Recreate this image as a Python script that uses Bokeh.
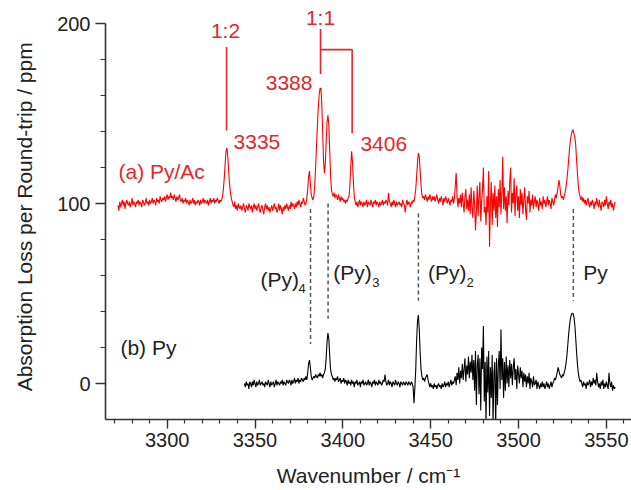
import numpy as np
from bokeh.plotting import figure
from bokeh.models import Range1d, FixedTicker, Label
from bokeh.embed import file_html
from bokeh.resources import INLINE

FONT = "Liberation Sans"
RED_TXT = "#e3262b"

# ---------------- data ----------------
step = 0.5
red_start = 3272.0     # (a) Py/Ac
red_y = [
    99, 96, 101, 98, 100, 102, 99, 101, 97, 100, 102, 100, 99, 101, 98, 100, 103, 99, 101, 100,
    98, 101, 100, 102, 99, 101, 100, 98, 102, 101, 99, 100, 103, 100, 101, 99, 102, 100, 101, 103,
    100, 102, 101, 99, 103, 101, 102, 100, 104, 102, 101, 103, 102, 104, 101, 103, 105, 102, 104, 103,
    106, 103, 104, 102, 105, 103, 101, 104, 102, 103, 105, 102, 101, 103, 100, 102, 101, 103, 100, 102,
    101, 99, 102, 100, 101, 103, 100, 102, 99, 101, 100, 102, 101, 99, 102, 100, 101, 103, 100, 102,
    101, 100, 102, 99, 101, 103, 100, 102, 101, 103, 100, 102, 101, 103, 102, 100, 102, 101, 102, 104,
    108, 114, 122, 129, 131, 126, 118, 111, 106, 103, 101, 99, 98, 101, 97, 99, 96, 100, 98, 97,
    99, 96, 98, 100, 97, 95, 99, 98, 96, 100, 98, 97, 99, 95, 98, 100, 97, 99, 96, 98,
    100, 97, 95, 98, 99, 96, 94, 98, 100, 97, 99, 96, 98, 95, 97, 99, 96, 98, 100, 97,
    98, 95, 97, 100, 96, 99, 97, 94, 98, 96, 99, 97, 100, 98, 96, 99, 97, 101, 98, 100,
    99, 97, 100, 98, 101, 99, 102, 100, 98, 101, 100, 103, 101, 99, 100, 103, 108, 115, 118, 111,
    105, 103, 102, 104, 110, 120, 132, 143, 153, 160, 164, 164, 156, 140, 124, 117, 122, 134, 145, 149,
    144, 130, 116, 108, 105, 104, 106, 103, 105, 104, 102, 105, 103, 101, 104, 102, 103, 101, 102, 100,
    102, 101, 103, 104, 110, 121, 129, 123, 112, 104, 101, 99, 101, 98, 100, 102, 99, 101, 100, 98,
    101, 99, 100, 102, 98, 101, 100, 99, 102, 100, 98, 101, 100, 102, 99, 101, 100, 98, 101, 99,
    100, 102, 99, 101, 100, 102, 101, 99, 106, 101, 100, 98, 101, 99, 102, 100, 98, 101, 99, 100,
    101, 99, 100, 98, 102, 100, 99, 95, 100, 102, 99, 101, 100, 98, 101, 100, 102, 101, 104, 108,
    115, 123, 128, 126, 118, 110, 105, 103, 104, 102, 105, 103, 101, 104, 102, 105, 103, 101, 104, 102,
    104, 101, 103, 105, 102, 100, 103, 101, 104, 102, 99, 103, 101, 104, 102, 100, 103, 101, 99, 102,
    101, 104, 100, 103, 110, 117, 104, 98, 103, 100, 105, 98, 106, 100, 95, 104, 108, 97, 102, 96,
    105, 94, 109, 98, 92, 107, 100, 85, 96, 110, 93, 104, 112, 90, 101, 108, 120, 95, 98, 88,
    104, 95, 118, 76, 100, 112, 88, 106, 96, 110, 92, 104, 87, 108, 98, 113, 94, 105, 126, 97,
    109, 96, 104, 89, 107, 99, 112, 120, 95, 106, 100, 114, 93, 105, 110, 96, 104, 92, 108, 99,
    106, 94, 102, 109, 97, 91, 104, 100, 107, 95, 102, 99, 105, 97, 101, 104, 98, 102, 100, 96,
    103, 99, 101, 97, 104, 100, 102, 98, 101, 104, 99, 102, 100, 97, 103, 101, 99, 102, 105, 103,
    106, 109, 113, 110, 105, 103, 104, 102, 104, 106, 109, 113, 118, 124, 130, 135, 138, 140, 141, 139,
    137, 133, 125, 117, 110, 106, 104, 102, 104, 101, 103, 100, 102, 99, 101, 103, 100, 98, 101, 99,
    102, 100, 97, 101, 99, 103, 100, 98, 102, 99, 96, 101, 100, 98, 102, 99, 104, 100, 97, 101,
    99, 102, 98, 100, 96, 99, 101,
]

black_start = 3344.0   # (b) Py
black_y = [
    0, -2, 1, -1, 0, -3, 1, 0, -2, 1, -1, 2, 0, -2, 1, -1, 0, 2, -1, 0,
    1, -1, 0, -2, 1, 0, -1, 2, 0, -2, 1, -1, 0, 1, -2, 0, 2, -1, 1, 0,
    -1, 1, 0, 2, -1, 1, 0, -1, 2, 1, 0, 2, 1, -1, 2, 0, 1, 3, 0, 2,
    1, 3, 0, 2, 1, 3, 2, 1, 3, 2, 4, 2, 6, 11, 13, 9, 4, 2, 3, 4,
    3, 5, 4, 3, 5, 4, 6, 4, 5, 3, 5, 6, 8, 14, 23, 28, 25, 16, 8, 5,
    4, 2, 3, 1, 3, 2, 4, 1, 2, 3, 0, 2, 1, 3, 0, 2, 1, -1, 2, 0,
    1, -1, 2, 0, 1, -2, 1, 0, 2, -1, 0, 1, -2, 1, 0, 2, -1, 0, 1, -1,
    0, 2, -1, 1, 0, -2, 1, 0, 2, -1, 1, 0, -1, 2, 0, 1, -1, 0, 2, 1,
    5, 1, -1, 0, 2, -1, 1, 0, -2, 1, 0, -1, 2, 0, -1, 1, 0, -2, 1, 0,
    -1, 1, 0, -1, 1, 0, -1, 1, 0, -1, 1, 0, -2, -11, -2, 8, 24, 35, 38, 30,
    17, 8, 4, 2, 3, 1, 3, 4, 5, 2, 0, -2, 0, -2, -1, -3, 0, -2, -1, -3,
    -1, 0, -2, -1, -3, 0, -2, -1, 1, -2, 0, -1, 1, -2, 0, 2, -1, 1, 0, 2,
    4, -1, 6, 2, 9, 0, 7, 3, 11, 2, 8, 14, 1, 10, 5, 15, 3, 12, 6, 16,
    2, 13, -4, 18, -12, 10, 16, -6, 14, -15, 20, 8, 32, -10, 12, -22, 15, -5, 18, -18,
    9, -8, 16, -22, 6, 12, -24, 14, -12, 10, 18, -3, 30, 2, 14, -8, 12, -4, 15, 0,
    10, -2, 13, 3, 11, -1, 9, 14, 2, 8, -3, 10, 5, 0, 9, 3, 7, -2, 6, 1,
    5, -2, 4, 0, 6, -3, 3, 1, -2, 4, -1, 0, 2, -3, 1, -1, -3, 0, -2, 1,
    -2, 0, -3, -1, 1, -2, 0, -3, -1, 1, -2, 0, 1, 3, 2, 4, 6, 9, 7, 5,
    4, 3, 5, 4, 6, 8, 11, 15, 21, 27, 32, 36, 38, 39, 39, 37, 33, 26, 18, 11,
    6, 3, 1, 2, 0, -2, 1, -1, 0, -3, 1, -1, 0, 2, -2, 1, -1, 3, 0, 2,
    -1, 6, 1, -2, 0, -3, 1, -1, 2, -3, 0, -2, 1, -1, -3, 6, 0, -2, 1, -4,
    -1, -3, -2,
]

# assignment markers (red): 1:2 line, 1:1 bracket
seg_x0 = [3333.8, 3387.3, 3387.3, 3405.3]
seg_y0 = [140.5, 172.0, 185.5, 185.5]
seg_x1 = [3333.8, 3387.3, 3405.3, 3405.3]
seg_y1 = [187.0, 197.0, 185.5, 139.0]

# dashed correlation lines (Py clusters)
dash_x = [3381.6, 3391.6, 3443.0, 3531.2]
dash_top = [97.0, 100.0, 94.4, 97.0]
dash_bottom = [22.0, 36.0, 46.0, 46.0]

x_major = [3300, 3350, 3400, 3450, 3500, 3550]
x_minor = [v for v in range(3270, 3570, 10) if v % 50 != 0]
y_major = [0, 100, 200]
y_minor = [20, 40, 60, 80, 120, 140, 160, 180]

red_x = red_start + step * np.arange(len(red_y))
black_x = black_start + step * np.arange(len(black_y))

# ---------------- figure ----------------
p = figure(width=631, height=490, output_backend="svg", toolbar_location=None,
           x_range=Range1d(3264.9, 3564.3), y_range=Range1d(-20, 211.67),
           min_border_left=105, min_border_right=0, min_border_top=2,
           min_border_bottom=71, title=None)
p.outline_line_color = None
p.xgrid.visible = False
p.ygrid.visible = False
p.background_fill_color = "white"
p.border_fill_color = "white"

for ax in (p.xaxis[0], p.yaxis[0]):
    ax.axis_line_color = "#333333"
    ax.axis_line_width = 1.6
    ax.major_tick_line_color = "#333333"
    ax.minor_tick_line_color = "#333333"
    ax.major_tick_line_width = 1.4
    ax.minor_tick_line_width = 1.2
    ax.major_tick_in = 0
    ax.minor_tick_in = 0
    ax.major_label_text_font = FONT
    ax.major_label_text_font_size = "20px"
    ax.major_label_text_color = "#222222"
    ax.axis_label_text_font = FONT
    ax.axis_label_text_font_size = "21px"
    ax.axis_label_text_font_style = "normal"
    ax.axis_label_text_color = "#222222"

p.xaxis.ticker = FixedTicker(ticks=x_major, minor_ticks=x_minor)
p.yaxis.ticker = FixedTicker(ticks=y_major, minor_ticks=y_minor)
p.yaxis.bounds = (-20, 200)
p.xaxis.major_tick_out = 9
p.xaxis.minor_tick_out = 4
p.yaxis.major_tick_out = 10
p.yaxis.minor_tick_out = 5
p.xaxis.major_label_standoff = 4
p.yaxis.major_label_standoff = 5

p.xaxis.axis_label = "Wavenumber / cm\u207b\u00b9"
p.xaxis.axis_label_standoff = 14
p.yaxis.axis_label = "Absorption Loss per Round-trip / ppm\u00a0\u00a0"
p.yaxis.axis_label_standoff = 18

# spectra
p.line(red_x, red_y, line_color="#ff0000", line_width=1.1)
p.line(black_x, black_y, line_color="#000000", line_width=1.1)

# assignment lines
p.segment(seg_x0, seg_y0, seg_x1, seg_y1, line_color=RED_TXT, line_width=1.6)
p.segment(dash_x, dash_top, dash_x, dash_bottom, line_color="#555555",
          line_width=1.5, line_dash="4 3")


def lab(x, y, text, color="#222222", size="21px", align="left", baseline="middle"):
    p.add_layout(Label(x=x, y=y, text=text, text_font=FONT, text_font_size=size,
                       text_color=color, text_align=align, text_baseline=baseline))


# red annotations
lab(3333.2, 196.0, "1:2", RED_TXT, align="center")
lab(3387.3, 203.3, "1:1", RED_TXT, align="center")
lab(3337.8, 133.9, "3335", RED_TXT)
lab(3382.7, 167.2, "3388", RED_TXT, align="right")
lab(3410.0, 133.0, "3406", RED_TXT)
lab(3272.3, 117.8, "(a) Py/Ac", RED_TXT)

# black annotations
lab(3273.4, 20.0, "(b) Py")
lab(3353.1, 57.8, "(Py)")
lab(3374.8, 53.0, "4", size="13px")
lab(3394.6, 61.7, "(Py)")
lab(3416.7, 56.0, "3", size="13px")
lab(3448.5, 61.7, "(Py)")
lab(3470.4, 56.0, "2", size="13px")
lab(3536.8, 61.7, "Py")

open("out.html", "w").write(file_html(p, INLINE))
